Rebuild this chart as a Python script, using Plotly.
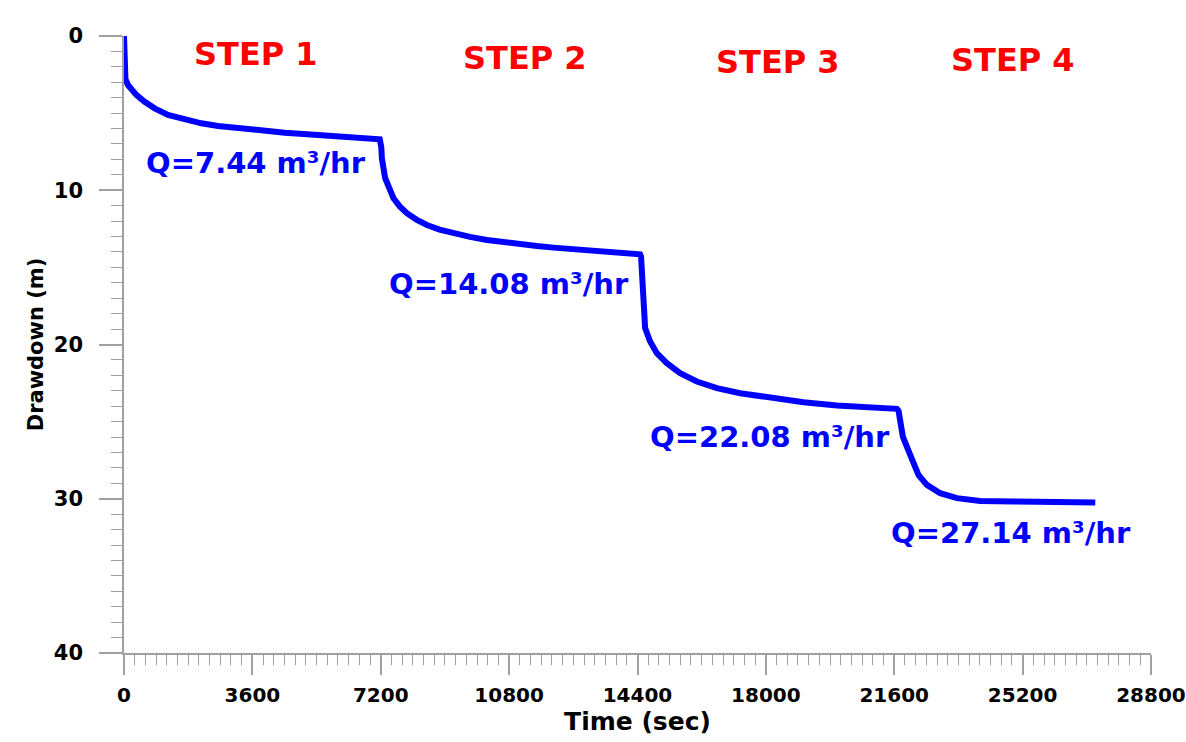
import plotly.graph_objects as go

# Data
time_sec = [0, 20, 40, 112, 345, 580, 860, 1234, 1702, 2169, 2637, 3571, 4507, 5442, 6376, 7172,
            7215, 7231, 7324, 7430, 7557, 7733, 7933, 8200, 8494, 8850, 9240, 9700, 10177, 10640,
            11111, 11580, 12046, 12983, 13918, 14473,
            14500, 14530, 14567, 14614, 14754, 14942, 15222, 15596, 16064, 16625, 17279, 18120,
            19055, 19990, 20925, 21674,
            21720, 21766, 21841, 21953, 22094, 22279, 22515, 22888, 23357, 24011, 24946, 25881, 27237]
drawdown_m = [0, 2.2, 2.8, 3.18, 3.82, 4.26, 4.69, 5.12, 5.44, 5.66, 5.83, 6.09, 6.27, 6.42, 6.57, 6.7,
              7.2, 7.93, 9.22, 9.9, 10.52, 11.05, 11.49, 11.9, 12.25, 12.55, 12.79, 13.02, 13.22, 13.37,
              13.5, 13.62, 13.72, 13.87, 14.02, 14.15,
              14.3, 15.7, 17.87, 18.94, 19.81, 20.56, 21.21, 21.86, 22.4, 22.83, 23.16, 23.48,
              23.74, 23.96, 24.09, 24.17,
              24.3, 25.1, 25.97, 26.62, 27.48, 28.45, 29.1, 29.64, 29.96, 30.14, 30.18, 30.2, 30.25]

x_ticks = [0, 3600, 7200, 10800, 14400, 18000, 21600, 25200, 28800]
y_ticks = [0, 10, 20, 30, 40]

step_labels = ["STEP 1", "STEP 2", "STEP 3", "STEP 4"]
step_x = [3689, 11248, 18345, 24937]
step_y = [1.17, 1.43, 1.69, 1.56]

q_labels = ["Q=7.44 m³/hr", "Q=14.08 m³/hr", "Q=22.08 m³/hr", "Q=27.14 m³/hr"]
q_x = [3702, 10799, 18120, 24880]
q_y = [8.23, 16.07, 25.99, 32.2]

FONT = "DejaVu Sans"
AXIS_COLOR = "#a0a0a0"

fig = go.Figure()
fig.add_trace(go.Scatter(
    x=time_sec, y=drawdown_m, mode="lines",
    line=dict(color="#0000ff", width=6),
    showlegend=False, hoverinfo="x+y",
))

for txt, x, y in zip(step_labels, step_x, step_y):
    fig.add_annotation(x=x, y=y, text=txt, showarrow=False,
                       font=dict(family=FONT, size=32, color="#ff0000", weight="bold"),
                       xanchor="center", yanchor="middle")
for txt, x, y in zip(q_labels, q_x, q_y):
    fig.add_annotation(x=x, y=y, text=txt, showarrow=False,
                       font=dict(family=FONT, size=29, color="#0000ff", weight="bold"),
                       xanchor="center", yanchor="middle")

fig.update_layout(
    width=1186, height=742,
    margin=dict(l=124, r=35, t=36, b=89, autoexpand=False),
    paper_bgcolor="white", plot_bgcolor="white",
    font=dict(family=FONT, color="black"),
    xaxis=dict(
        range=[0, 28800], tickvals=x_ticks, ticktext=[str(v) for v in x_ticks],
        showgrid=False, zeroline=False, showline=True, linecolor=AXIS_COLOR, linewidth=1.5,
        ticks="outside", ticklen=20, tickwidth=1.5, tickcolor=AXIS_COLOR,
        ticklabelstandoff=3, ticklabeloverflow="allow",
        tickfont=dict(family=FONT, size=20, color="black", weight="bold"),
        minor=dict(dtick=300, tick0=0, ticks="outside", ticklen=10, tickwidth=1.2,
                   tickcolor=AXIS_COLOR, showgrid=False),
        title=dict(text="Time (sec)", standoff=4,
                   font=dict(family=FONT, size=25, color="black", weight="bold")),
        automargin=False,
    ),
    yaxis=dict(
        range=[40, 0], tickvals=y_ticks, ticktext=[str(v) for v in y_ticks],
        showgrid=False, zeroline=False, showline=True, linecolor=AXIS_COLOR, linewidth=1.5,
        ticks="outside", ticklen=23, tickwidth=1.5, tickcolor=AXIS_COLOR,
        ticklabelstandoff=12,
        tickfont=dict(family=FONT, size=21, color="black", weight="bold"),
        minor=dict(dtick=1, tick0=0, ticks="outside", ticklen=11, tickwidth=1.2,
                   tickcolor=AXIS_COLOR, showgrid=False),
        title=dict(text="Drawdown (m)", standoff=4,
                   font=dict(family=FONT, size=21, color="black", weight="bold")),
        automargin=False,
    ),
)

fig.write_html(
    "out.html",
    config={"displayModeBar": False},
    post_script="document.body.style.margin='0';document.body.style.overflow='hidden';",
)
